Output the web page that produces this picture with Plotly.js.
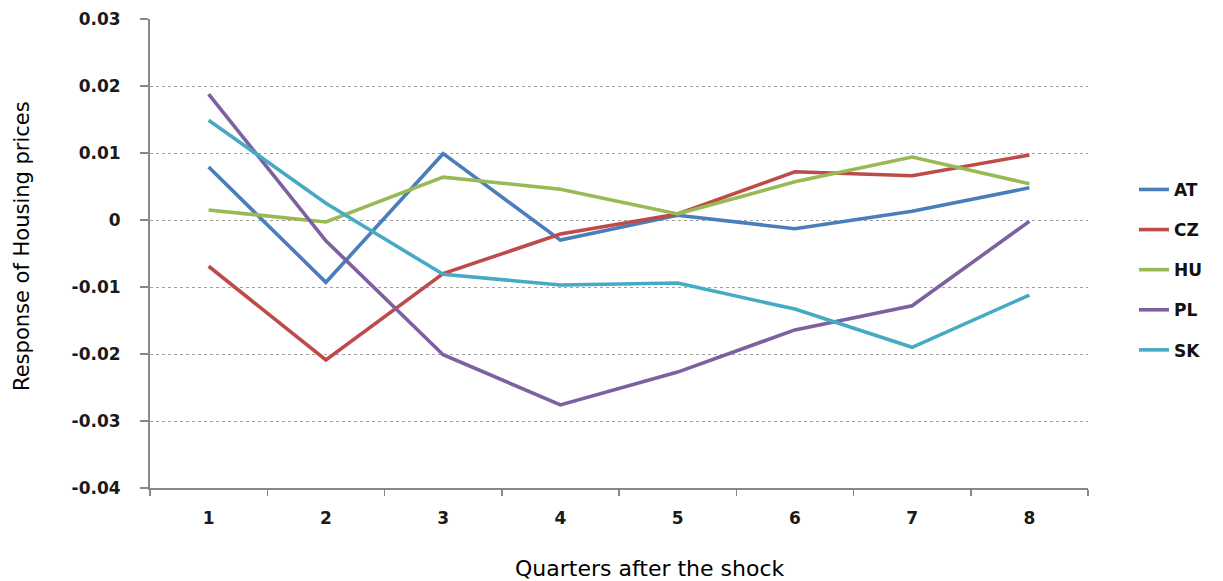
<!DOCTYPE html>
<html>
<head>
<meta charset="utf-8">
<script src="https://cdn.plot.ly/plotly-3.0.1.min.js"></script>
<style>html,body{margin:0;padding:0;background:#fff;}#chart{width:1223px;height:581px;}</style>
</head>
<body>
<div id="chart"></div>
<script>
const quarters = ["1","2","3","4","5","6","7","8"];
const AT = [0.0079, -0.0093, 0.0099, -0.0030, 0.0007, -0.0013, 0.0013, 0.0048];
const CZ = [-0.0069, -0.0209, -0.0080, -0.0021, 0.0009, 0.0072, 0.0066, 0.0097];
const HU = [0.0015, -0.0003, 0.0064, 0.0046, 0.0009, 0.0057, 0.0094, 0.0054];
const PL = [0.0188, -0.0031, -0.0201, -0.0276, -0.0227, -0.0164, -0.0128, -0.0002];
const SK = [0.0149, 0.0025, -0.0081, -0.0097, -0.0094, -0.0133, -0.0190, -0.0112];
const yTickVals = [0.03, 0.02, 0.01, 0, -0.01, -0.02, -0.03, -0.04];
const yTickText = ["0.03", "0.02", "0.01", "0", "-0.01", "-0.02", "-0.03", "-0.04"];
const xTitle = "Quarters after the shock";
const yTitle = "Response of Housing prices";

const series = [
  {name: "AT", y: AT, color: "#4A7EBB"},
  {name: "CZ", y: CZ, color: "#BE4B48"},
  {name: "HU", y: HU, color: "#98B954"},
  {name: "PL", y: PL, color: "#7D60A0"},
  {name: "SK", y: SK, color: "#46AAC5"}
];

const traces = series.map(s => ({
  type: "scatter",
  mode: "lines",
  name: s.name,
  x: quarters,
  y: s.y,
  legendgroup: s.name,
  line: {color: s.color, width: 3.6}
}));

const FAM = "DejaVu Sans, Verdana, sans-serif";
const tickFont = {size: 17, family: FAM, color: "#1a1a1a", weight: "bold"};

const layout = {
  width: 1223,
  height: 581,
  margin: {l: 150, r: 135, t: 19, b: 93},
  paper_bgcolor: "#fff",
  plot_bgcolor: "#fff",
  font: {family: FAM, color: "#000"},
  showlegend: true,
  legend: {
    x: 1.049, xanchor: "left", y: 0.465, yanchor: "middle",
    font: {size: 17, family: FAM, color: "#111", weight: "bold"},
    tracegroupgap: 15,
    bgcolor: "rgba(0,0,0,0)"
  },
  xaxis: {
    type: "category",
    range: [-0.5, 7.5],
    tickson: "boundaries",
    ticks: "outside",
    ticklen: 6,
    tickwidth: 1.5,
    tickcolor: "#888",
    showline: true,
    linecolor: "#888",
    linewidth: 2,
    showgrid: false,
    zeroline: false,
    ticklabelstandoff: 14,
    tickfont: tickFont
  },
  yaxis: {
    range: [-0.04, 0.03],
    tickvals: yTickVals,
    ticktext: yTickText,
    ticks: "outside",
    ticklen: 8,
    tickwidth: 1.5,
    tickcolor: "#888",
    showline: true,
    linecolor: "#888",
    linewidth: 2,
    showgrid: true,
    gridcolor: "#a0a0a0",
    gridwidth: 1,
    griddash: "dot",
    zeroline: false,
    ticklabelstandoff: 16,
    tickfont: tickFont
  },
  annotations: [
    {text: xTitle, xref: "paper", yref: "paper", x: 0.533, y: -0.1706,
     xanchor: "center", yanchor: "middle", showarrow: false,
     font: {size: 22, family: FAM, color: "#000"}},
    {text: yTitle, xref: "paper", yref: "paper", x: -0.1365, y: 0.516,
     xanchor: "center", yanchor: "middle", showarrow: false, textangle: -90,
     font: {size: 21, family: FAM, color: "#000"}}
  ]
};

Plotly.newPlot("chart", traces, layout, {staticPlot: true, displayModeBar: false});
</script>
</body>
</html>
